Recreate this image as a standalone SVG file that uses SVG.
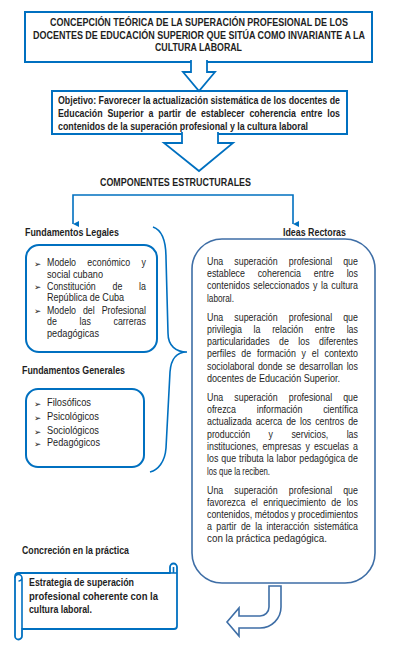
<svg xmlns="http://www.w3.org/2000/svg" width="401" height="648" viewBox="0 0 401 648">
<style>
.t{font-family:"Liberation Sans",Arial,sans-serif;font-size:10.8px;fill:#1e1e1e}
.b{font-weight:bold}
.bu{font-family:"DejaVu Sans",sans-serif;font-size:8.5px;fill:#1e1e1e}
.box{fill:#fff;stroke:#0070C0;stroke-width:2}
.dbox{fill:#fff;stroke:#3e6ea6;stroke-width:1.6}
.ln{fill:none;stroke:#0070C0;stroke-width:1.6}
</style>
<defs>
<marker id="ah" viewBox="0 0 6 6" refX="3" refY="6" markerWidth="6" markerHeight="6" markerUnits="userSpaceOnUse" orient="auto-start-reverse">
<path d="M0,0 L3,6 L6,0 Z" fill="#0070C0"/>
</marker>
</defs>
<rect width="401" height="648" fill="#fff"/>

<g id="titulo">
<rect class="box" x="25" y="12" width="347" height="50"/>
<g transform="scale(0.82 1)">
<text class="t b" x="60.98" y="26" textLength="363.4" lengthAdjust="spacingAndGlyphs">CONCEPCIÓN TEÓRICA DE LA SUPERACIÓN PROFESIONAL DE LOS</text>
<text class="t b" x="40.24" y="39" textLength="404.9" lengthAdjust="spacingAndGlyphs">DOCENTES DE EDUCACIÓN SUPERIOR QUE SITÚA COMO INVARIANTE A LA</text>
<text class="t b" x="189.02" y="51.5" textLength="106.1" lengthAdjust="spacingAndGlyphs">CULTURA LABORAL</text>
</g>
</g>

<g id="objetivo">
<rect class="box" x="52" y="91" width="295" height="43"/>
<g transform="scale(0.82 1)">
<text class="t b" x="70.73" y="104" textLength="343.9" lengthAdjust="spacing">Objetivo: Favorecer la actualización sistemática de los docentes de</text>
<text class="t b" x="70.73" y="117" textLength="343.9" lengthAdjust="spacing" style="word-spacing:3px">Educación Superior a partir de establecer coherencia entre los</text>
<text class="t b" x="70.73" y="130" textLength="304.9" lengthAdjust="spacingAndGlyphs">contenidos de la superación profesional y la cultura laboral</text>
</g>
</g>

<g id="componentes">
<g transform="scale(0.82 1)">
<text class="t b" x="121.95" y="186" textLength="184.1" lengthAdjust="spacingAndGlyphs">COMPONENTES ESTRUCTURALES</text>
</g>
</g>

<g id="fund-legales">
<rect class="box" x="26" y="245" width="131" height="107" rx="13"/>
<text class="bu" x="34" y="266.5">➢</text>
<text class="bu" x="34" y="290">➢</text>
<text class="bu" x="34" y="314">➢</text>
<g transform="scale(0.82 1)">
<text class="t b" x="30.49" y="236" textLength="114.6" lengthAdjust="spacingAndGlyphs">Fundamentos Legales</text>
<text class="t" x="57.32" y="266.5" textLength="120.7" lengthAdjust="spacing" style="word-spacing:10.8px">Modelo económico y</text>
<text class="t" x="57.32" y="278" textLength="68.3" lengthAdjust="spacingAndGlyphs">social cubano</text>
<text class="t" x="57.32" y="290" textLength="120.7" lengthAdjust="spacing" style="word-spacing:17.4px">Constitución de la</text>
<text class="t" x="57.32" y="301.5" textLength="93.9" lengthAdjust="spacingAndGlyphs">República de Cuba</text>
<text class="t" x="57.32" y="314" textLength="120.7" lengthAdjust="spacing" style="word-spacing:5.4px">Modelo del Profesional</text>
<text class="t" x="57.32" y="325.5" textLength="120.7" lengthAdjust="spacing" style="word-spacing:24.6px">de las carreras</text>
<text class="t" x="57.32" y="337" textLength="63.4" lengthAdjust="spacingAndGlyphs">pedagógicas</text>
</g>
</g>

<g id="fund-generales">
<rect class="box" x="26" y="389" width="118" height="78" rx="12"/>
<text class="bu" x="34" y="406.5">➢</text>
<text class="bu" x="34" y="420.5">➢</text>
<text class="bu" x="34" y="434.5">➢</text>
<text class="bu" x="34" y="446.5">➢</text>
<g transform="scale(0.82 1)">
<text class="t b" x="26.83" y="374" textLength="125.6" lengthAdjust="spacingAndGlyphs">Fundamentos Generales</text>
<text class="t" x="57.32" y="406.5" textLength="53.7" lengthAdjust="spacingAndGlyphs">Filosóficos</text>
<text class="t" x="57.32" y="420.5" textLength="63.4" lengthAdjust="spacingAndGlyphs">Psicológicos</text>
<text class="t" x="57.32" y="434.5" textLength="63.4" lengthAdjust="spacingAndGlyphs">Sociológicos</text>
<text class="t" x="57.32" y="446.5" textLength="64.6" lengthAdjust="spacingAndGlyphs">Pedagógicos</text>
</g>
</g>

<g id="ideas-rectoras">
<rect class="dbox" x="192" y="239" width="183" height="344" rx="30"/>
<g transform="scale(0.82 1)">
<text class="t b" x="345.12" y="236" textLength="76.8" lengthAdjust="spacingAndGlyphs">Ideas Rectoras</text>
<text class="t" x="252.44" y="265" textLength="184.1" lengthAdjust="spacing" style="word-spacing:10.5px">Una superación profesional que</text>
<text class="t" x="252.44" y="277.5" textLength="184.1" lengthAdjust="spacing" style="word-spacing:12.5px">establece coherencia entre los</text>
<text class="t" x="252.44" y="289.5" textLength="184.1" lengthAdjust="spacing" style="word-spacing:1.3px">contenidos seleccionados y la cultura</text>
<text class="t" x="252.44" y="302" textLength="32.9" lengthAdjust="spacingAndGlyphs">laboral.</text>
<text class="t" x="252.44" y="321" textLength="184.1" lengthAdjust="spacing" style="word-spacing:10.5px">Una superación profesional que</text>
<text class="t" x="252.44" y="333.5" textLength="184.1" lengthAdjust="spacing" style="word-spacing:11.2px">privilegia la relación entre las</text>
<text class="t" x="252.44" y="345.5" textLength="184.1" lengthAdjust="spacing" style="word-spacing:8.5px">particularidades de los diferentes</text>
<text class="t" x="252.44" y="357.5" textLength="184.1" lengthAdjust="spacing" style="word-spacing:4px">perfiles de formación y el contexto</text>
<text class="t" x="252.44" y="370" textLength="184.1" lengthAdjust="spacing" style="word-spacing:1.4px">sociolaboral donde se desarrollan los</text>
<text class="t" x="252.44" y="382.5" textLength="162.2" lengthAdjust="spacingAndGlyphs">docentes de Educación Superior.</text>
<text class="t" x="252.44" y="401.5" textLength="184.1" lengthAdjust="spacing" style="word-spacing:10.5px">Una superación profesional que</text>
<text class="t" x="252.44" y="413.5" textLength="184.1" lengthAdjust="spacing" style="word-spacing:22.4px">ofrezca información científica</text>
<text class="t" x="252.44" y="425.5" textLength="184.1" lengthAdjust="spacing" style="word-spacing:1.8px">actualizada acerca de los centros de</text>
<text class="t" x="252.44" y="438" textLength="184.1" lengthAdjust="spacing" style="word-spacing:19.4px">producción y servicios, las</text>
<text class="t" x="252.44" y="450" textLength="184.1" lengthAdjust="spacing" style="word-spacing:2px">instituciones, empresas y escuelas a</text>
<text class="t" x="252.44" y="462.5" textLength="184.1" lengthAdjust="spacing" style="word-spacing:0.6px">los que tributa la labor pedagógica de</text>
<text class="t" x="252.44" y="475" textLength="76.8" lengthAdjust="spacingAndGlyphs">los que la reciben.</text>
<text class="t" x="252.44" y="494.5" textLength="184.1" lengthAdjust="spacing" style="word-spacing:10.5px">Una superación profesional que</text>
<text class="t" x="252.44" y="506.5" textLength="184.1" lengthAdjust="spacing" style="word-spacing:3.7px">favorezca el enriquecimiento de los</text>
<text class="t" x="252.44" y="518.5" textLength="184.1" lengthAdjust="spacing">contenidos, métodos y procedimientos</text>
<text class="t" x="252.44" y="530.5" textLength="184.1" lengthAdjust="spacing" style="word-spacing:2.4px">a partir de la interacción sistemática</text>
<text class="t" x="252.44" y="542.5" textLength="146.3" lengthAdjust="spacingAndGlyphs">con la práctica pedagógica.</text>
</g>
</g>

<g id="concrecion">
<path fill="#fff" stroke="#0070C0" stroke-width="1.8" stroke-linejoin="round" d="M15,577 Q15,573 19,573 L170,573 L170,567 A3.5,3.5 0 0 1 177,567 L177,626 Q177,629 174,629 L22,629 L22,636 A3.5,3.5 0 0 1 15,636 Z"/>
<path fill="none" stroke="#0070C0" stroke-width="1.6" d="M22,629 L22,578 A3.5,3.5 0 0 0 15,578 M18.5,581 A3.5,3.5 0 0 0 22,577.5 M173.5,567 L173.5,573 M170,573 L177,573"/>
<g transform="scale(0.82 1)">
<text class="t b" x="26.83" y="554" textLength="130.5" lengthAdjust="spacingAndGlyphs">Concreción en la práctica</text>
<text class="t b" x="35.37" y="586" textLength="128" lengthAdjust="spacingAndGlyphs">Estrategia de superación</text>
<text class="t b" x="35.37" y="600" textLength="157.3" lengthAdjust="spacingAndGlyphs">profesional coherente con la</text>
<text class="t b" x="35.37" y="613" textLength="76.8" lengthAdjust="spacingAndGlyphs">cultura laboral.</text>
</g>
</g>

<g id="connectors">
<path fill="#fff" stroke="#0070C0" stroke-width="1.8" stroke-linejoin="miter" d="M191,60 V72 H183 L199,91 L215,72 H207 V60"/>
<path fill="#fff" stroke="#0070C0" stroke-width="1.8" stroke-linejoin="miter" d="M182,132 V143 H164 L199,171 L233,143 H218 V132"/>
<path class="ln" d="M73,224 V195 H293 V224" marker-start="url(#ah)" marker-end="url(#ah)"/>
<path class="ln" stroke-width="1.8" d="M153,227 C162,230 166,240 166,258 L168,333 C168,346 176,352 187,352 C177,352 171,358 170,372 L166,448 C165,462 158,470 150,472"/>
<path class="dbox" stroke-width="1.4" d="M269,586 L281,586 L281,607 A21,21 0 0 1 260,628 L239,628 L239,636 L227,622 L239,608 L239,616 L260,616 A9,9 0 0 0 269,607 Z"/>
</g>
</svg>
